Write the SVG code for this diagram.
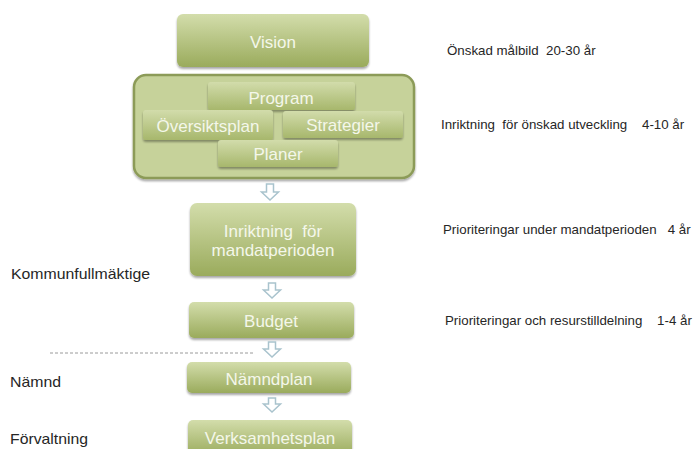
<svg xmlns="http://www.w3.org/2000/svg" width="700" height="449" viewBox="0 0 700 449">
<defs>
<linearGradient id="g" x1="0" y1="0" x2="0" y2="1">
<stop offset="0" stop-color="#d3ddab"/>
<stop offset="1" stop-color="#9aab5c"/>
</linearGradient>
<linearGradient id="gi" x1="0" y1="0" x2="0" y2="1">
<stop offset="0" stop-color="#d2dcab"/>
<stop offset="1" stop-color="#a7b76c"/>
</linearGradient>
<filter id="sh" x="-10%" y="-20%" width="120%" height="150%">
<feGaussianBlur in="SourceAlpha" stdDeviation="1.2"/>
<feOffset dx="0" dy="1.5"/>
<feComponentTransfer><feFuncA type="linear" slope="0.35"/></feComponentTransfer>
<feMerge><feMergeNode/><feMergeNode in="SourceGraphic"/></feMerge>
</filter>
</defs>
<style>
text{white-space:pre}
.box{fill:url(#g);filter:url(#sh)}
.inner{fill:url(#gi);filter:url(#sh)}
.bt{font-family:"Liberation Sans",Arial,sans-serif;font-size:17px;fill:#f4f7ea;text-anchor:middle}
.rt{font-family:"Liberation Sans",Arial,sans-serif;font-size:13.3px;fill:#262626}
.lt{font-family:"Liberation Sans",Arial,sans-serif;font-size:14.5px;fill:#262626}
.arr{fill:#ffffff;stroke:#a9c3cd;stroke-width:1.5;stroke-linejoin:miter}
</style>
<rect width="700" height="449" fill="#ffffff"/>

<g id="vision">
<rect class="box" x="177" y="14" width="192" height="53" rx="6"/>
<text class="bt" x="273" y="48">Vision</text>
</g>

<g id="container">
<rect x="134" y="75" width="280" height="103" rx="12" fill="#c6d29a" stroke="#8c9b58" stroke-width="2.5" filter="url(#sh)"/>
</g>
<g id="program">
<rect class="inner" x="208" y="82" width="147" height="28" rx="3"/>
<text class="bt" x="281" y="104">Program</text>
</g>
<g id="oversiktsplan">
<rect class="inner" x="143" y="110" width="130" height="30" rx="3"/>
<text class="bt" x="208" y="132">Översiktsplan</text>
</g>
<g id="strategier">
<rect class="inner" x="283" y="111" width="120" height="27" rx="3"/>
<text class="bt" x="343" y="131">Strategier</text>
</g>
<g id="planer">
<rect class="inner" x="218" y="140" width="120" height="27" rx="3"/>
<text class="bt" x="278" y="160">Planer</text>
</g>

<g id="inriktning">
<rect class="box" x="190" y="203" width="166" height="73" rx="7"/>
<text class="bt" x="273" y="237">Inriktning  för</text>
<text class="bt" x="273" y="256">mandatperioden</text>
</g>

<g id="budget">
<rect class="box" x="189" y="302" width="165" height="36" rx="5"/>
<text class="bt" x="271" y="327">Budget</text>
</g>

<g id="namndplan">
<rect class="box" x="187" y="362" width="164" height="31" rx="5"/>
<text class="bt" x="269" y="385">Nämndplan</text>
</g>

<g id="verksamhetsplan">
<rect class="box" x="188" y="420" width="164" height="36" rx="5"/>
<text class="bt" x="270" y="444">Verksamhetsplan</text>
</g>

<g id="connectors">
<path class="arr" d="M266.5,184 h7 v8 h5 l-8.5,8 l-8.5,-8 h5 z"/>
<path class="arr" d="M268.5,283 h7 v7 h5 l-8.5,8 l-8.5,-8 h5 z"/>
<path class="arr" d="M268.5,342 h7 v7 h5 l-8.5,8 l-8.5,-8 h5 z"/>
<path class="arr" d="M268.5,398 h7 v6 h5 l-8.5,8 l-8.5,-8 h5 z"/>
<line x1="50" y1="353" x2="253" y2="353" stroke="#9a9a9a" stroke-width="1" stroke-dasharray="3,2"/>
</g>

<g id="labels">
<text class="rt" x="447" y="55">Önskad målbild  20-30 år</text>
<text class="rt" x="441" y="129">Inriktning  för önskad utveckling    4-10 år</text>
<text class="rt" x="443" y="234">Prioriteringar under mandatperioden   4 år</text>
<text class="rt" x="445" y="325">Prioriteringar och resurstilldelning    1-4 år</text>
<text class="lt" x="11" y="279" textLength="139" lengthAdjust="spacingAndGlyphs">Kommunfullmäktige</text>
<text class="lt" x="10" y="387" textLength="51" lengthAdjust="spacingAndGlyphs">Nämnd</text>
<text class="lt" x="10" y="444" textLength="78" lengthAdjust="spacingAndGlyphs">Förvaltning</text>
</g>
</svg>
